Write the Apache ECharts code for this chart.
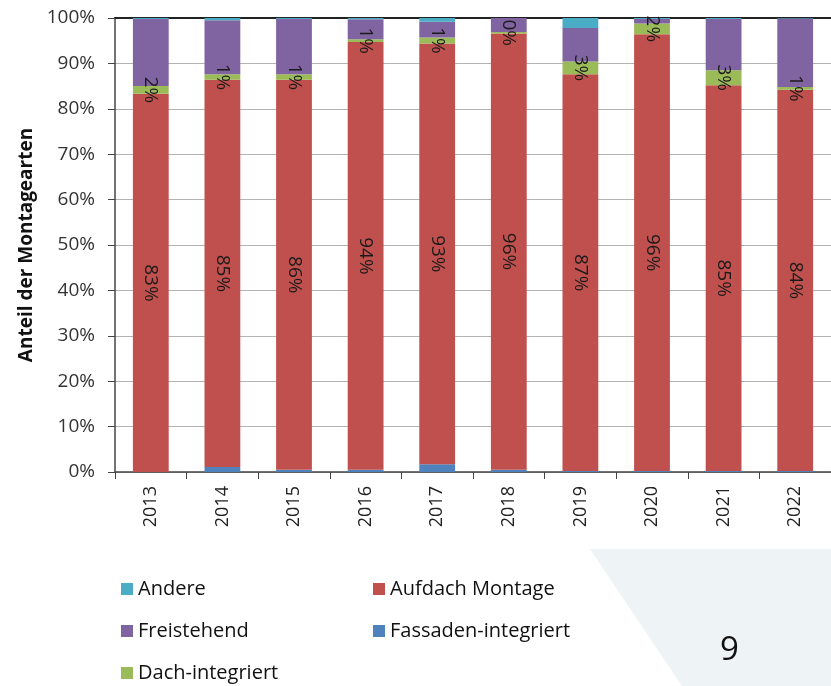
<!DOCTYPE html>
<html>
<head>
<meta charset="utf-8">
<script src="https://cdn.jsdelivr.net/npm/echarts@6/dist/echarts.min.js"></script>
<style>
  html, body { margin: 0; padding: 0; background: #fff; }
  #chart { width: 831px; height: 686px; }
</style>
</head>
<body>
<div id="chart"></div>
<script>
// categories and series (share in % of mounting types)
var years = ['2013', '2014', '2015', '2016', '2017', '2018', '2019', '2020', '2021', '2022'];
var fassaden = [0.0, 1.1, 0.5, 0.5, 1.7, 0.5, 0.2, 0.2, 0.2, 0.2];
var aufdach = [83.3, 85.3, 85.9, 94.2, 92.7, 96.1, 87.4, 96.2, 85.0, 84.0];
var dach = [1.7, 1.2, 1.2, 0.6, 1.3, 0.3, 2.8, 2.4, 3.3, 0.6];
var freistehend = [14.8, 11.9, 12.2, 4.4, 3.5, 3.1, 7.4, 1.0, 11.3, 15.1];
var andere = [0.2, 0.5, 0.2, 0.3, 0.8, 0.0, 2.2, 0.2, 0.2, 0.1];
var yTicks = [0, 10, 20, 30, 40, 50, 60, 70, 80, 90, 100];

var font = '"Open Sans", "Noto Sans", sans-serif';
var chart = echarts.init(document.getElementById('chart'));

function pctLabel(p) {
    return Math.round(p.value) + '%';
}

function bar(name, data, color, showLabel) {
    return {
        name: name,
        type: 'bar',
        stack: 'total',
        data: data,
        barWidth: '50%',
        itemStyle: { color: color },
        label: {
            show: showLabel,
            position: 'inside',
            rotate: -90,
            formatter: pctLabel,
            color: '#1a1a1a',
            fontFamily: font,
            fontSize: 19
        }
    };
}

var legendText = { fontFamily: font, fontSize: 20, color: '#111' };

var option = {
    animation: false,
    backgroundColor: '#fff',
    grid: { left: 115, right: -8, top: 18, bottom: 214 },
    legend: [
        {
            orient: 'vertical', left: 116, top: 574, height: 140, itemGap: 22,
            itemWidth: 12, itemHeight: 12, icon: 'rect',
            data: ['Andere', 'Freistehend', 'Dach-integriert'],
            textStyle: legendText
        },
        {
            orient: 'vertical', left: 368, top: 574, height: 140, itemGap: 22,
            itemWidth: 12, itemHeight: 12, icon: 'rect',
            data: ['Aufdach Montage', 'Fassaden-integriert'],
            textStyle: legendText
        }
    ],
    xAxis: [
        {
            type: 'category',
            data: years,
            axisLine: { lineStyle: { color: '#444', width: 1.5 } },
            axisTick: { show: true, length: 7, lineStyle: { color: '#444' } },
            axisLabel: { rotate: 90, margin: 14, fontFamily: font, fontSize: 18, color: '#222' }
        },
        {
            type: 'category',
            data: years,
            position: 'top',
            axisLine: { lineStyle: { color: '#222', width: 2 } },
            axisTick: { show: false },
            axisLabel: { show: false }
        }
    ],
    yAxis: {
        type: 'value',
        min: 0,
        max: 100,
        interval: 10,
        name: 'Anteil der Montagearten',
        nameLocation: 'middle',
        nameGap: 78,
        nameTextStyle: { fontFamily: font, fontSize: 19, fontWeight: 'bold', color: '#111' },
        axisLine: { show: true, lineStyle: { color: '#444', width: 1.5 } },
        axisTick: { show: true, length: 7, lineStyle: { color: '#444' } },
        axisLabel: {
            margin: 20, fontFamily: font, fontSize: 19, color: '#333',
            formatter: function (v) { return yTicks.indexOf(v) >= 0 ? v + '%' : ''; }
        },
        splitLine: { show: true, lineStyle: { color: '#b3b3b3', width: 1 } }
    },
    series: [
        bar('Fassaden-integriert', fassaden, '#4F81BD', false),
        bar('Aufdach Montage', aufdach, '#C0504D', true),
        bar('Dach-integriert', dach, '#9BBB59', true),
        bar('Freistehend', freistehend, '#8064A2', false),
        bar('Andere', andere, '#4BACC6', false)
    ],
    graphic: [
        {
            type: 'polygon',
            z: -1,
            shape: { points: [[590, 549], [831, 549], [831, 686], [682, 686]] },
            style: { fill: '#eef3f6' }
        },
        {
            type: 'text',
            left: 720,
            top: 634,
            style: { text: '9', fontFamily: font, fontSize: 33, fill: '#111' }
        }
    ]
};

chart.setOption(option);
</script>
</body>
</html>
